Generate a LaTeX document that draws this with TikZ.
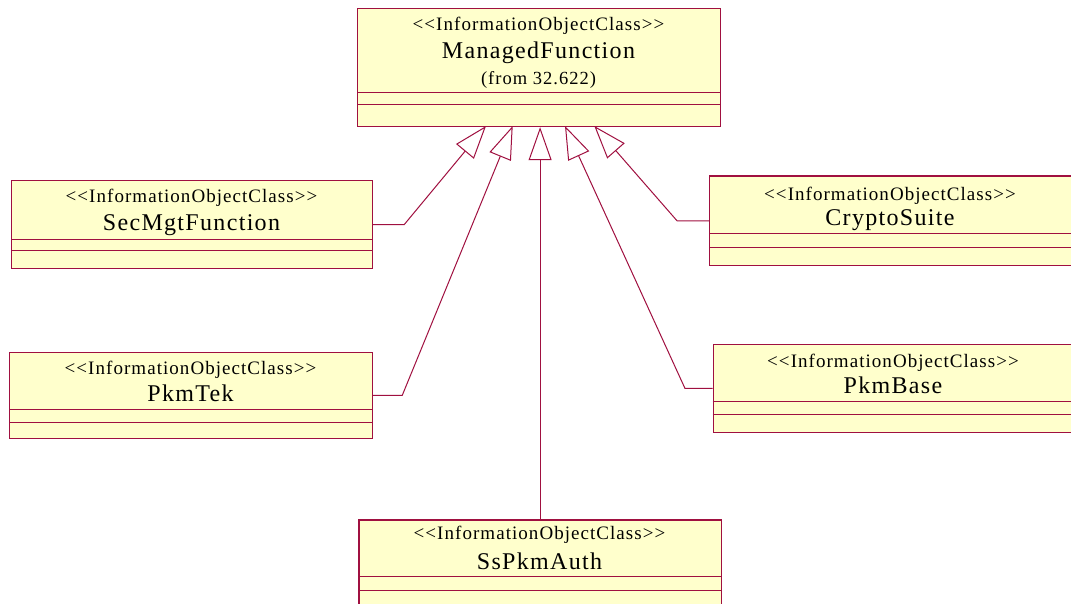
\documentclass[tikz,border=0pt]{standalone}
\usepackage{fontspec}
\setmainfont{Liberation Serif}
\newfontfamily\umlfont{Liberation Serif}[Ligatures=TeXOff, LetterSpace=5.5]
\usetikzlibrary{arrows.meta}
\definecolor{umlline}{RGB}{160,16,64}
\definecolor{umlfill}{RGB}{255,255,204}
\tikzset{
  classbox/.style={draw=umlline, fill=umlfill, line width=1.2pt, rectangle,
    anchor=north west, inner sep=0pt},
  sep/.style={draw=umlline, line width=1pt},
  stereo/.style={anchor=base, inner sep=0pt, font=\umlfont\fontsize{19}{19}\selectfont},
  cname/.style={anchor=base, inner sep=0pt, font=\umlfont\fontsize{24}{24}\selectfont},
  origin/.style={anchor=base, inner sep=0pt, font=\umlfont\fontsize{18.5}{18.5}\selectfont},
  gen/.style={draw=umlline, line width=1pt,
    -{Triangle[open, length=33pt, width=23pt]}},
}
\begin{document}
\begin{tikzpicture}[x=1pt, y=-1pt]
  \clip (0,0) rectangle (1071,603);
  \fill[white] (0,0) rectangle (1071,603);

  % ManagedFunction
  \node[classbox, minimum width=363pt, minimum height=118pt] (mf) at (357,8) {};
  \draw[sep] (357,92.7) -- (720,92.7);
  \draw[sep] (357,104.3) -- (720,104.3);
  \node[stereo] (mfs) at (538.5,30.7) {<<InformationObjectClass>>};
  \node[cname] (mfn) at (538.5,58.3) {ManagedFunction};
  \node[origin] (mfo) at (538.5,84) {(from 32.622)};

  % SecMgtFunction
  \node[classbox, minimum width=361pt, minimum height=88pt] (smf) at (11,180) {};
  \draw[sep] (11,239.3) -- (372,239.3);
  \draw[sep] (11,250.7) -- (372,250.7);
  \node[stereo] (smfs) at (191.5,202.3) {<<InformationObjectClass>>};
  \node[cname] (smfn) at (191.5,230) {SecMgtFunction};

  % CryptoSuite
  \node[classbox, minimum width=370pt, minimum height=89.7pt] (cs) at (709,175.3) {};
  \draw[sep] (709,233.3) -- (1080,233.3);
  \draw[sep] (709,247.3) -- (1080,247.3);
  \node[stereo] (css) at (890,200) {<<InformationObjectClass>>};
  \node[cname] (csn) at (890,225) {CryptoSuite};

  % PkmTek
  \node[classbox, minimum width=363pt, minimum height=86.3pt] (pt) at (9,351.7) {};
  \draw[sep] (9,409) -- (372,409);
  \draw[sep] (9,422.3) -- (372,422.3);
  \node[stereo] (pts) at (190.5,374.3) {<<InformationObjectClass>>};
  \node[cname] (ptn) at (190.5,401.7) {PkmTek};

  % PkmBase
  \node[classbox, minimum width=366pt, minimum height=87.7pt] (pb) at (712.7,344) {};
  \draw[sep] (712.7,401) -- (1080,401);
  \draw[sep] (712.7,414.7) -- (1080,414.7);
  \node[stereo] (pbs) at (893,367.7) {<<InformationObjectClass>>};
  \node[cname] (pbn) at (893,393.3) {PkmBase};

  % SsPkmAuth
  \node[classbox, minimum width=362.4pt, minimum height=100pt] (ssa) at (358.3,519.3) {};
  \draw[sep] (358.3,576.7) -- (720.7,576.7);
  \draw[sep] (358.3,590.3) -- (720.7,590.3);
  \node[stereo] (ssas) at (539.5,539.3) {<<InformationObjectClass>>};
  \node[cname] (ssan) at (539.5,569.3) {SsPkmAuth};

  % generalisation tips on the lower edge of ManagedFunction
  \coordinate (t1) at (486,126);
  \coordinate (t2) at (512.7,126);
  \coordinate (t4) at (565,126);
  \coordinate (t5) at (594.3,126);

  % generalisations
  \draw[gen] (smf.east) -- ++(31,0) -- (t1);
  \draw[gen] (pt.east) -- ++(29,0) -- (t2);
  \draw[gen] (ssa.north) -- (ssa.north |- mf.south);
  \draw[gen] (pb.west) -- ++(-27.7,0) -- (t4);
  \draw[gen] (cs.west) -- ++(-32,0) -- (t5);
\end{tikzpicture}
\end{document}
